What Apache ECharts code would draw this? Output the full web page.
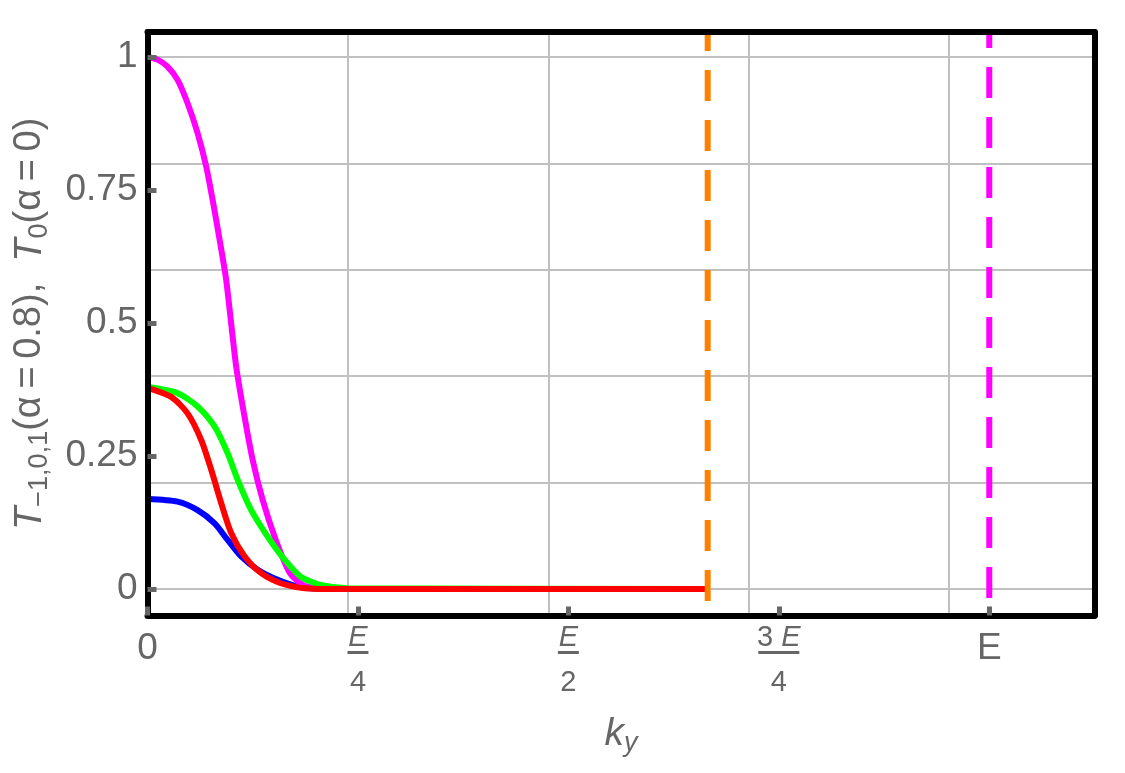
<!DOCTYPE html>
<html>
<head>
<meta charset="utf-8">
<title>T vs ky</title>
<script src="https://cdn.jsdelivr.net/npm/echarts@6/dist/echarts.min.js"></script>
<style>
  html, body { margin: 0; padding: 0; background: #fff; }
  #chart { width: 1125px; height: 773px; }
</style>
</head>
<body>
<div id="chart"></div>
<script>
// axis ranges (E = 0.84)
var kyMin = 0, kyMax = 0.945;
var tMin = -0.05, tMax = 1.047;

// ticks / gridlines
var kyGridValues = [0.2, 0.4, 0.6, 0.8];
var kyTickValues = [0, 0.21, 0.42, 0.63, 0.84];
var kyTickLabels = ["0", "E/4", "E/2", "3 E/4", "E"];
var tGridValues = [0, 0.2, 0.4, 0.6, 0.8, 1.0];
var tTickValues = [0, 0.25, 0.5, 0.75, 1];
var tTickLabels = ["0", "0.25", "0.5", "0.75", "1"];

// curves
var blueKy = [0, 0.030, 0.050, 0.067, 0.080, 0.0935, 0.110, 0.130, 0.150, 0.170, 0.200, 0.559];
var blueT = [0.169, 0.164, 0.148, 0.123, 0.092, 0.061, 0.036, 0.017, 0.0043, 0.0005, 0, 0];

var magentaKy = [0, 0.010, 0.020, 0.030, 0.040, 0.050, 0.0586, 0.065, 0.072, 0.0785, 0.0885, 0.0968, 0.105, 0.115, 0.128, 0.142, 0.155, 0.170, 0.190, 0.559];
var magentaT = [1.0, 0.995, 0.982, 0.957, 0.913, 0.857, 0.794, 0.731, 0.656, 0.581, 0.418, 0.324, 0.242, 0.167, 0.092, 0.030, 0.0075, 0.001, 0, 0];

var greenKy = [0, 0.030, 0.050, 0.067, 0.080, 0.090, 0.1035, 0.120, 0.137, 0.153, 0.173, 0.200, 0.559];
var greenT = [0.380, 0.368, 0.343, 0.305, 0.255, 0.205, 0.148, 0.098, 0.0545, 0.023, 0.0075, 0.001, 0];

var redKy = [0, 0.0236, 0.040, 0.0536, 0.0636, 0.0736, 0.0835, 0.097, 0.1135, 0.133, 0.157, 0.180, 0.559];
var redT = [0.378, 0.361, 0.330, 0.280, 0.224, 0.161, 0.105, 0.061, 0.0295, 0.0107, 0.0013, 0, 0];

// dashed cut-offs
var orangeCut = 0.559;
var magentaCut = 0.84;

var GRAY = "#666666";

function zip(xs, ys) {
  return xs.map(function (x, i) { return [x, ys[i]]; });
}

function nearest(list, v) {
  var best = 0;
  list.forEach(function (x, i) {
    if (Math.abs(x - v) < Math.abs(list[best] - v)) best = i;
  });
  return best;
}

function kyLabel(value) {
  var s = kyTickLabels[nearest(kyTickValues, value)];
  if (s.indexOf("/") < 0) return "{w|" + s + "}";
  var parts = s.split("/"), num = parts[0], den = parts[1];
  var numRich, bar;
  if (num.indexOf(" ") >= 0) {
    var np = num.split(" ");
    numRich = "{nu|" + np[0] + " }{n|" + np[1] + "}";
    bar = "bw";
  } else {
    numRich = "{n|" + num + "}";
    bar = "bn";
  }
  return numRich + "\n{" + bar + "| }\n{d|" + den + "}";
}

function tLabel(value) {
  return tTickLabels[nearest(tTickValues, value)];
}

function curve(name, color, xs, ys) {
  return {
    name: name,
    type: "line",
    xAxisIndex: 0,
    yAxisIndex: 0,
    data: zip(xs, ys),
    smooth: 0.25,
    showSymbol: false,
    symbol: "none",
    lineStyle: { color: color, width: 6 },
    z: 3
  };
}

function cutLine(name, color, x, offset) {
  return {
    name: name,
    type: "line",
    xAxisIndex: 0,
    yAxisIndex: 0,
    data: [[x, tMax], [x, tMin]],
    symbol: "none",
    lineStyle: { color: color, width: 6, type: [31, 19], dashOffset: offset, cap: "butt" },
    z: 4
  };
}

var chart = echarts.init(document.getElementById("chart"), null, { renderer: "canvas" });

var frameLine = { show: true, onZero: false, lineStyle: { color: "#000", width: 6 } };
var noLine = { show: false, onZero: false };

chart.setOption({
  animation: false,
  backgroundColor: "#fff",
  textStyle: { fontFamily: "Liberation Sans, Arial, sans-serif" },
  grid: { left: 147.5, right: 30.5, top: 32, bottom: 157.5, containLabel: false },
  xAxis: [
    {
      type: "value", min: kyMin, max: kyMax, position: "bottom",
      axisLine: noLine,
      axisTick: { show: false, customValues: kyGridValues },
      axisLabel: { show: false },
      splitLine: { show: true, lineStyle: { color: "#c0c0c0", width: 2 } }
    },
    {
      type: "value", min: kyMin, max: kyMax, position: "bottom", z: 10,
      axisLine: frameLine,
      axisTick: { show: true, inside: true, length: 9, customValues: kyTickValues, lineStyle: { color: GRAY, width: 5 } },
      axisLabel: {
        customValues: kyTickValues,
        margin: 10,
        color: GRAY,
        formatter: kyLabel,
        rich: {
          w: { fontSize: 37, lineHeight: 46, color: GRAY },
          n: { fontSize: 29, fontStyle: "italic", lineHeight: 24, color: GRAY },
          nu: { fontSize: 29, lineHeight: 24, color: GRAY },
          bn: { fontSize: 2, width: 21, height: 3, lineHeight: 6, backgroundColor: GRAY },
          bw: { fontSize: 2, width: 41, height: 3, lineHeight: 6, backgroundColor: GRAY },
          d: { fontSize: 29, lineHeight: 54, color: GRAY }
        }
      },
      splitLine: { show: false },
      name: "{k|k}{s|y}",
      nameLocation: "middle",
      nameGap: 96,
      nameTextStyle: {
        rich: {
          k: { fontSize: 39, fontStyle: "italic", color: GRAY },
          s: { fontSize: 27, fontStyle: "italic", color: GRAY, padding: [18, 0, 0, 0] }
        }
      }
    },
    {
      type: "value", min: kyMin, max: kyMax, position: "top", z: 10,
      axisLine: frameLine, axisTick: { show: false }, axisLabel: { show: false }, splitLine: { show: false }
    }
  ],
  yAxis: [
    {
      type: "value", min: tMin, max: tMax, position: "left",
      axisLine: noLine,
      axisTick: { show: false, customValues: tGridValues },
      axisLabel: { show: false },
      splitLine: { show: true, lineStyle: { color: "#c0c0c0", width: 2 } }
    },
    {
      type: "value", min: tMin, max: tMax, position: "left", z: 10,
      axisLine: frameLine,
      axisTick: { show: true, inside: true, length: 9, customValues: tTickValues, lineStyle: { color: GRAY, width: 5 } },
      axisLabel: { customValues: tTickValues, margin: 10, color: GRAY, fontSize: 37, formatter: tLabel },
      splitLine: { show: false },
      name: "{t|T}{s|\u22121,0,1}{r|(\u03b1\u2009=\u20090.8),  }{t|T}{s|0}{r|(\u03b1\u2009=\u20090)}",
      nameLocation: "middle",
      nameRotate: 90,
      nameGap: 94,
      nameTextStyle: {
        rich: {
          t: { fontSize: 38, fontStyle: "italic", color: GRAY },
          r: { fontSize: 38, color: GRAY },
          s: { fontSize: 27, color: GRAY, padding: [20, 0, 0, 0] }
        }
      }
    },
    {
      type: "value", min: tMin, max: tMax, position: "right", z: 10,
      axisLine: frameLine, axisTick: { show: false }, axisLabel: { show: false }, splitLine: { show: false }
    }
  ],
  series: [
    curve("blue", "#0000ff", blueKy, blueT),
    curve("magenta", "#ff00ff", magentaKy, magentaT),
    curve("green", "#00ff00", greenKy, greenT),
    curve("red", "#ff0000", redKy, redT),
    cutLine("orange cut", "#ff8000", orangeCut, 12),
    cutLine("magenta cut", "#ff00ff", magentaCut, 15)
  ]
});
</script>
</body>
</html>
